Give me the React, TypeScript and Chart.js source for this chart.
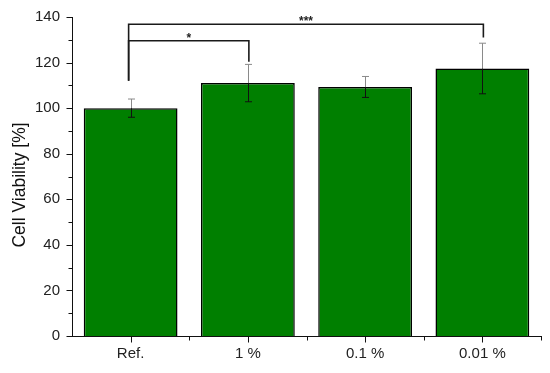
import React, { useEffect, useRef } from "react";
import { Chart, registerables } from "chart.js";

Chart.register(...registerables);

const categories = ["Ref.", "1 %", "0.1 %", "0.01 %"];
const viability = [100, 111, 109.3, 117.4];
const errors = [4, 8.2, 4.6, 11.1];
const yTickValues = [0, 20, 40, 60, 80, 100, 120, 140];
const yTitle = "Cell Viability [%]";
const bracketFrom = [0, 0];
const bracketTo = [1, 3];
const bracketLevel = [129.6, 136.8];
const bracketLeftEnd = [112, 112];
const bracketRightEnd = [120.4, 131];
const bracketLabels = ["*", "***"];

const FONT = "'Liberation Sans', Arial, sans-serif";

const overlay = {
  id: "overlay",
  afterDatasetsDraw(chart: any) {
    const { ctx, scales } = chart;
    const x = scales.x;
    const y = scales.y;
    ctx.save();
    // error bars
    viability.forEach((v, i) => {
      const cx = Math.round(x.getPixelForValue(i)) + 0.5;
      const top = y.getPixelForValue(v + errors[i]);
      const mid = y.getPixelForValue(v);
      const bot = y.getPixelForValue(v - errors[i]);
      ctx.lineWidth = 1;
      ctx.strokeStyle = "#8a8a8a";
      ctx.beginPath();
      ctx.moveTo(cx, top);
      ctx.lineTo(cx, mid);
      ctx.moveTo(cx - 3.5, top);
      ctx.lineTo(cx + 3.5, top);
      ctx.stroke();
      ctx.strokeStyle = "#111";
      ctx.beginPath();
      ctx.moveTo(cx, mid);
      ctx.lineTo(cx, bot);
      ctx.moveTo(cx - 3.5, bot);
      ctx.lineTo(cx + 3.5, bot);
      ctx.stroke();
    });
    // brackets
    ctx.strokeStyle = "#1a1a1a";
    ctx.lineWidth = 1.6;
    bracketFrom.forEach((f, k) => {
      const x1 = x.getPixelForValue(f) - 2;
      const x2 = x.getPixelForValue(bracketTo[k]) + 1;
      const yl = y.getPixelForValue(bracketLevel[k]);
      ctx.beginPath();
      ctx.moveTo(x1, y.getPixelForValue(bracketLeftEnd[k]));
      ctx.lineTo(x1, yl);
      ctx.lineTo(x2, yl);
      ctx.lineTo(x2, y.getPixelForValue(bracketRightEnd[k]));
      ctx.stroke();
      ctx.fillStyle = "#222";
      ctx.font = `bold 12px ${FONT}`;
      ctx.textAlign = "center";
      ctx.textBaseline = "alphabetic";
      ctx.fillText(bracketLabels[k], (x1 + x2) / 2, yl + 1);
    });
    // axis tick marks
    ctx.strokeStyle = "#111";
    ctx.lineWidth = 1;
    const ax = Math.round(chart.chartArea.left) + 0.5;
    for (let v = 0; v <= 140; v += 10) {
      const py = Math.round(y.getPixelForValue(v)) + 0.5;
      const len = v % 20 === 0 ? 6 : 4;
      ctx.beginPath();
      ctx.moveTo(ax - len, py);
      ctx.lineTo(ax, py);
      ctx.stroke();
    }
    const ay = Math.round(chart.chartArea.bottom) + 0.5;
    const step = x.getPixelForValue(1) - x.getPixelForValue(0);
    categories.forEach((_, i) => {
      const px = Math.round(x.getPixelForValue(i)) + 0.5;
      ctx.beginPath();
      ctx.moveTo(px, ay);
      ctx.lineTo(px, ay + 6);
      ctx.stroke();
      const bx = Math.round(x.getPixelForValue(i) + step / 2) + 0.5;
      ctx.beginPath();
      ctx.moveTo(bx, ay);
      ctx.lineTo(bx, ay + 4);
      ctx.stroke();
    });
    // y title
    ctx.save();
    ctx.translate(20, 185);
    ctx.rotate(-Math.PI / 2);
    ctx.fillStyle = "#111";
    ctx.font = `17.5px ${FONT}`;
    ctx.textAlign = "center";
    ctx.textBaseline = "middle";
    ctx.fillText(yTitle, 0, 0);
    ctx.restore();
    ctx.restore();
  },
};

export default function App() {
  const ref = useRef<HTMLCanvasElement>(null);
  useEffect(() => {
    const chart = new Chart(ref.current!, {
      type: "bar",
      data: {
        labels: categories,
        datasets: [
          {
            data: viability,
            backgroundColor: "#007f00",
            borderColor: "#000",
            borderWidth: 1.5,
            categoryPercentage: 1,
            barPercentage: 0.8,
          },
        ],
      },
      options: {
        animation: false,
        responsive: false,
        maintainAspectRatio: false,
        layout: { padding: { top: 17, right: 9, left: 0, bottom: 0 } },
        plugins: { legend: { display: false }, tooltip: { enabled: false } },
        scales: {
          x: {
            grid: { display: false, drawTicks: false },
            border: { display: true, color: "#111", width: 1 },
            ticks: {
              color: "#222",
              padding: 9,
              font: { size: 15, family: FONT },
            },
            afterFit: (s: any) => {
              s.height = 37;
              s.paddingLeft = 0;
              s.paddingRight = 0;
            },
          },
          y: {
            min: 0,
            max: 140,
            afterBuildTicks: (s: any) => {
              s.ticks = yTickValues.map((v) => ({ value: v }));
            },
            grid: { display: false, drawTicks: false },
            border: { display: true, color: "#111", width: 1 },
            ticks: {
              color: "#222",
              padding: 12,
              font: { size: 15, family: FONT },
            },
            afterFit: (s: any) => {
              s.width = 72;
              s.paddingTop = 0;
              s.paddingBottom = 0;
            },
          },
        },
      },
      plugins: [overlay],
    });
    return () => chart.destroy();
  }, []);
  return (
    <div style={{ position: "fixed", left: 0, top: 0, width: 550, height: 373, background: "#fff" }}>
      <canvas ref={ref} width={550} height={373} style={{ width: 550, height: 373 }} />
    </div>
  );
}
